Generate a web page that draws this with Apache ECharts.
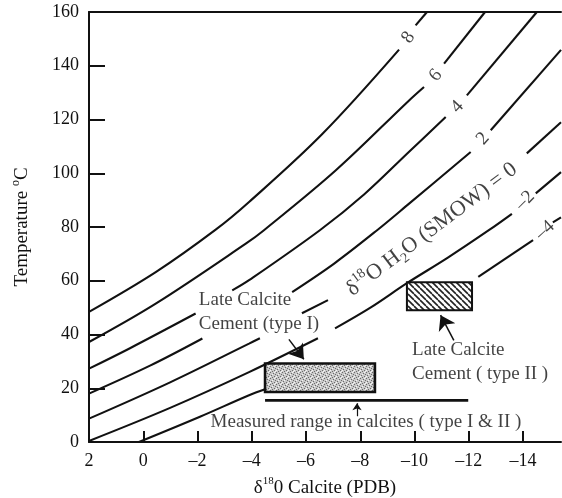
<!DOCTYPE html>
<html>
<head>
<meta charset="utf-8">
<script src="https://cdn.jsdelivr.net/npm/echarts@6/dist/echarts.min.js"></script>
<style>html,body{margin:0;padding:0;background:#fff}#c{width:562px;height:498px}</style>
</head>
<body>
<div id="c"></div>
<script>
// ---------------- data ----------------
const xTickValues  = [0, -2, -4, -6, -8, -10, -12, -14];
const xLabelValues = [2, 0, -2, -4, -6, -8, -10, -12, -14];
const yMin = 0, yMax = 160, yStep = 20;
const xLeft = 2, xRight = -15.4;

// isotherm curves for δ18O water (SMOW); null = break in the drawn line
const curve8 = [[2.00,48.4],[-0.46,63.2],[-2.67,79.0],[-3.90,89.3],[-6.59,114.5],[-9.43,146.0],null,[-10.04,155.0],[-10.46,160.0]];
const curve6 = [[2.00,37.2],[-0.46,51.5],[-3.78,73.8],[-4.45,78.8],[-7.10,101.1],[-9.80,127.1],[-10.35,132.1],null,[-11.09,140.8],[-12.60,160.0]];
const curve4 = [[2.00,27.3],[0.49,34.9],[-1.93,47.8],null,[-3.28,56.4],[-3.90,60.2],[-6.51,78.8],[-8.15,92.2],[-9.80,108.0],[-11.15,120.9],null,[-11.93,129.0],[-14.51,160.0]];
const curve2 = [[2.00,18.0],[-0.25,28.4],[-2.18,38.5],null,[-5.49,55.8],[-7.05,66.5],[-8.62,78.8],[-9.80,88.7],[-12.07,107.9],null,[-12.81,116.0],[-15.40,145.9]];
const curve0 = [[2.00,8.7],[-0.99,22.2],[-3.90,36.6],[-4.30,38.6],null,[-5.85,47.9],[-6.81,52.8],null,[-14.14,107.4],[-15.40,119.0]];
const curveM2 = [[2.00,0.4],[-0.99,12.7],[-3.90,26.0],[-6.44,38.6],null,[-7.07,42.3],[-8.39,50.1],[-9.72,59.1],[-11.23,68.6],[-12.74,78.8],[-13.59,84.9],null,[-14.47,92.5],[-15.40,100.4]];
const curveM4 = [[0.16,0.0],[-2.09,9.4],[-3.90,17.4],[-4.49,19.6],null,[-12.35,61.4],[-14.37,75.1],null,[-15.10,81.7],[-15.40,83.6]];
const curves = [curve8, curve6, curve4, curve2, curve0, curveM2, curveM4];

// curve labels: text and anchor (data coords)
const curveLabelText = ['8', '6', '4', '2', '–2', '–4'];
const curveLabelAt   = [[-9.77,150.5],[-10.78,136.4],[-11.58,124.7],[-12.52,112.9],[-14.07,89.9],[-14.81,78.8]];
const zeroLabelAt    = [-10.64, 79.1];

// boxes [x1, y1, x2, y2]
const boxTypeI  = [-4.49, 18.6, -8.54, 29.2];
const boxTypeII = [-9.72, 49.0, -12.12, 59.4];
const measuredRange = [[-4.49, 15.5], [-11.98, 15.5]];

// arrows [from, to]
const arrowTypeI    = [[-5.37, 38.2], [-5.92, 30.8]];
const arrowTypeII   = [[-11.45, 37.8], [-10.96, 47.2]];
const arrowMeasured = [[-7.88, 9.6], [-7.88, 14.4]];

// annotation texts
const noteTypeI     = {text: 'Late Calcite\nCement (type I)', at: [-2.05, 48.3]};
const noteTypeII    = {text: 'Late Calcite\nCement ( type II )', at: [-9.91, 29.8]};
const noteMeasured  = {text: 'Measured range in calcites ( type I & II )', at: [-8.21, 7.6]};

// ---------------- styling / building ----------------
const FONT = '"Liberation Serif", "Times New Roman", serif';
const INK = '#111';

function segments(arr) {
  const out = []; let cur = [];
  arr.forEach(p => { if (p === null) { if (cur.length) out.push(cur); cur = []; } else cur.push(p); });
  if (cur.length) out.push(cur);
  return out;
}
function fmtNum(v) { return v < 0 ? '–' + (-v) : String(v); }

function makeStipple() {
  const c = document.createElement('canvas'); c.width = 6; c.height = 6;
  const g = c.getContext('2d');
  g.fillStyle = '#c8c8c8'; g.fillRect(0, 0, 6, 6);
  g.fillStyle = '#6a6a6a';
  [[0,0],[3,1],[1,3],[4,4],[5,2],[2,5]].forEach(d => g.fillRect(d[0], d[1], 1, 1));
  g.fillStyle = '#f4f4f4';
  [[2,2],[5,5],[0,4],[4,0]].forEach(d => g.fillRect(d[0], d[1], 1, 1));
  return c;
}
function makeHatch() {
  const s = 6;
  const c = document.createElement('canvas'); c.width = s; c.height = s;
  const g = c.getContext('2d');
  g.fillStyle = '#fff'; g.fillRect(0, 0, s, s);
  g.strokeStyle = '#222'; g.lineWidth = 1.6;
  [-s, 0, s].forEach(o => { g.beginPath(); g.moveTo(o, 0); g.lineTo(o + s, s); g.stroke(); });
  return c;
}
const stipple = makeStipple();
const hatch = makeHatch();

const series = [];
curves.forEach(cv => {
  segments(cv).forEach(seg => {
    series.push({
      type: 'line', data: seg, symbol: 'none', smooth: 0.35, silent: true,
      lineStyle: {color: INK, width: 2.1}, z: 2, animation: false
    });
  });
});

// measured range line
series.push({type: 'line', data: measuredRange, symbol: 'none', silent: true,
  lineStyle: {color: INK, width: 2.6}, z: 3, animation: false});

// boxes
function boxSeries(box, fillImg, lw) {
  return {
    type: 'custom', data: [box], z: 5, silent: true, animation: false,
    encode: {x: [0, 2], y: [1, 3]},
    renderItem: function (params, api) {
      const p1 = api.coord([api.value(0), api.value(1)]);
      const p2 = api.coord([api.value(2), api.value(3)]);
      return {
        type: 'rect',
        shape: {x: Math.min(p1[0], p2[0]), y: Math.min(p1[1], p2[1]),
                width: Math.abs(p2[0] - p1[0]), height: Math.abs(p2[1] - p1[1])},
        style: {fill: {image: fillImg, repeat: 'repeat'}, stroke: INK, lineWidth: lw}
      };
    }
  };
}
series.push(boxSeries(boxTypeI, stipple, 2.6));
series.push(boxSeries(boxTypeII, hatch, 2));

// arrows
function arrowSeries(a, size, w) {
  return {
    type: 'lines', coordinateSystem: 'cartesian2d', silent: true, animation: false, z: 6,
    symbol: ['none', 'arrow'], symbolSize: size,
    lineStyle: {color: INK, width: w, opacity: 1, curveness: 0},
    data: [{coords: a}]
  };
}
series.push(arrowSeries(arrowTypeI, [9, 14], 1.5));
series.push(arrowSeries(arrowTypeII, [9, 14], 1.5));
series.push(arrowSeries(arrowMeasured, [5, 7], 1.2));

// curve labels
const curveRot = [55, 50, 47, 48, 45, 42];
series.push({
  type: 'scatter', symbolSize: 1, silent: true, animation: false, z: 8,
  itemStyle: {color: 'rgba(0,0,0,0)'},
  data: curveLabelAt.map((p, i) => ({
    value: p,
    label: {show: true, position: 'inside', formatter: curveLabelText[i], rotate: curveRot[i],
      color: INK, fontFamily: FONT, fontSize: 19}
  }))
});
// δ18O H2O (SMOW) = 0 label
series.push({
  type: 'scatter', symbolSize: 1, silent: true, animation: false, z: 8,
  itemStyle: {color: 'rgba(0,0,0,0)'},
  data: [{
    value: zeroLabelAt,
    label: {show: true, position: 'inside', rotate: 37,
      formatter: '{n|δ}{s|18}{n|O H}{b|2}{n|O (SMOW) = 0}',
      rich: {
        n: {fontFamily: FONT, fontSize: 22, color: INK, lineHeight: 28},
        s: {fontFamily: FONT, fontSize: 14, color: INK, verticalAlign: 'top', lineHeight: 14},
        b: {fontFamily: FONT, fontSize: 14, color: INK, verticalAlign: 'bottom', lineHeight: 14}
      }}
  }]
});
// annotation texts
function noteItem(n, align) {
  return {value: n.at, label: {show: true, position: 'inside', align: align, formatter: n.text,
    color: INK, fontFamily: FONT, fontSize: 19, lineHeight: 24}};
}
series.push({
  type: 'scatter', symbolSize: 1, silent: true, animation: false, z: 8,
  itemStyle: {color: 'rgba(0,0,0,0)'},
  data: [noteItem(noteTypeI, 'left'), noteItem(noteTypeII, 'left'), noteItem(noteMeasured, 'center')]
});

const chart = echarts.init(document.getElementById('c'), null, {renderer: 'canvas'});
chart.setOption({
  animation: false,
  backgroundColor: '#fff',
  grid: {left: 89, right: 1, top: 12, bottom: 56, containLabel: false, outerBoundsMode: 'none'},
  xAxis: [{
    type: 'value', min: xRight, max: xLeft, inverse: true, position: 'bottom',
    axisLine: {onZero: false, lineStyle: {color: INK, width: 2}},
    axisTick: {inside: true, length: 11, lineStyle: {color: INK, width: 2}, customValues: xTickValues},
    axisLabel: {customValues: xLabelValues, formatter: fmtNum, color: INK, fontFamily: FONT, fontSize: 18, margin: 10},
    splitLine: {show: false},
    name: '{n|δ}{s|18}{n|0 Calcite (PDB)}', nameLocation: 'middle', nameGap: 34,
    nameTextStyle: {rich: {
      n: {fontFamily: FONT, fontSize: 19, color: INK, lineHeight: 24},
      s: {fontFamily: FONT, fontSize: 11, color: INK, verticalAlign: 'top', lineHeight: 11}
    }}
  }, {
    type: 'value', min: xRight, max: xLeft, inverse: true, position: 'top',
    axisLine: {onZero: false, lineStyle: {color: INK, width: 2}},
    axisTick: {show: false}, axisLabel: {show: false}, splitLine: {show: false}
  }],
  yAxis: {
    type: 'value', min: yMin, max: yMax, interval: yStep,
    axisLine: {show: true, onZero: false, lineStyle: {color: INK, width: 2}},
    axisTick: {inside: true, length: 16, lineStyle: {color: INK, width: 2}},
    axisLabel: {color: INK, fontFamily: FONT, fontSize: 18, margin: 10},
    splitLine: {show: false},
    name: '{n|Temperature }{s|o}{n|C}', nameLocation: 'middle', nameGap: 55, nameRotate: 90,
    nameTextStyle: {rich: {
      n: {fontFamily: FONT, fontSize: 19, color: INK, lineHeight: 24},
      s: {fontFamily: FONT, fontSize: 12, color: INK, verticalAlign: 'top', lineHeight: 12}
    }}
  },
  series: series
});
</script>
</body>
</html>
